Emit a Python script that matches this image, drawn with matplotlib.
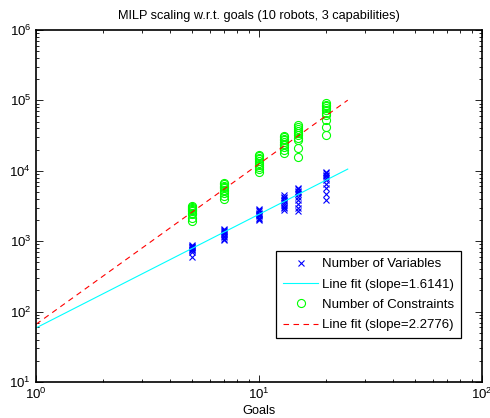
import numpy as np
import matplotlib
matplotlib.use("Agg")
import matplotlib.pyplot as plt

plt.rcParams["font.family"] = ["Liberation Sans", "DejaVu Sans"]
plt.rcParams["mathtext.fontset"] = "custom"
plt.rcParams["mathtext.rm"] = "Liberation Sans"
plt.rcParams["mathtext.it"] = "Liberation Sans"

goals = [5, 7, 10, 13, 15, 20]

# number of variables per trial, one list per goal count
variables = [
    [880, 860, 840, 820, 800, 780, 760, 740, 700, 600],
    [1490, 1450, 1400, 1350, 1300, 1250, 1200, 1150, 1080, 1040],
    [2860, 2750, 2650, 2550, 2450, 2350, 2250, 2150, 2050, 2000],
    [4500, 4300, 4100, 3900, 3700, 3500, 3300, 3100, 2950, 2780],
    [5700, 5450, 5200, 4950, 4700, 4300, 3900, 3400, 3000, 2700],
    [9600, 9200, 8800, 8400, 8000, 7500, 6600, 5700, 4700, 3850],
]

# number of constraints per trial
constraints = [
    [3160, 3050, 2950, 2850, 2750, 2650, 2550, 2430, 2150, 1940],
    [6700, 6400, 6150, 5900, 5650, 5400, 5100, 4800, 4400, 4000],
    [16700, 16000, 15300, 14500, 13800, 13000, 12200, 11400, 10500, 9600],
    [31200, 29800, 28400, 27000, 25600, 24300, 23000, 21700, 19500, 17900],
    [44800, 42000, 39500, 37000, 34500, 32000, 29500, 27400, 21000, 15700],
    [91800, 87000, 82000, 77000, 72000, 67000, 62000, 52000, 42000, 32300],
]

# power-law fits y = c * x^slope
fit_x = [1, 25]
var_slope, var_c = 1.6141, 58.6
con_slope, con_c = 2.2776, 66.0

gx_v = np.repeat(goals, [len(v) for v in variables])
gy_v = np.concatenate(variables)
gx_c = np.repeat(goals, [len(v) for v in constraints])
gy_c = np.concatenate(constraints)
fx = np.array(fit_x, dtype=float)

fig = plt.figure(figsize=(4.9, 4.18), dpi=100)
ax = fig.add_axes([36/490, 36/418, 446/490, 352/418])

ax.plot(gx_v, gy_v, "x", color=(0, 0, 1), ms=4.5, mew=0.8, label="Number of Variables")
ax.plot(fx, var_c*fx**var_slope, "-", color=(0, 1, 1), lw=0.8, label="Line fit (slope=1.6141)")
ax.plot(gx_c, gy_c, "o", color=(0, 1, 0), mfc="none", ms=5.8, mew=0.8, label="Number of Constraints")
ax.plot(fx, con_c*fx**con_slope, "--", color=(1, 0, 0), lw=0.8, dashes=(5, 4), label="Line fit (slope=2.2776)")

ax.set_xscale("log")
ax.set_yscale("log")
ax.set_xlim(1, 100)
ax.set_ylim(10, 1e6)
ax.tick_params(which="both", direction="in", top=True, right=True, labelsize=9.5, width=0.6)
ax.tick_params(which="major", length=5)
ax.tick_params(which="minor", length=2.5)
for s in ax.spines.values():
    s.set_linewidth(1.2)

ax.set_title("MILP scaling w.r.t. goals (10 robots, 3 capabilities)", fontsize=9.2, pad=8)
ax.set_xlabel("Goals", fontsize=9.2, labelpad=2)

leg = ax.legend(loc="lower right", bbox_to_anchor=(0.953, 0.125), fontsize=9.5,
                fancybox=False, framealpha=1, edgecolor="black", borderaxespad=0,
                handlelength=2.7, handletextpad=0.3, labelspacing=0.62, borderpad=0.5)
leg.get_frame().set_linewidth(0.9)

fig.savefig("out.png", dpi=100)
